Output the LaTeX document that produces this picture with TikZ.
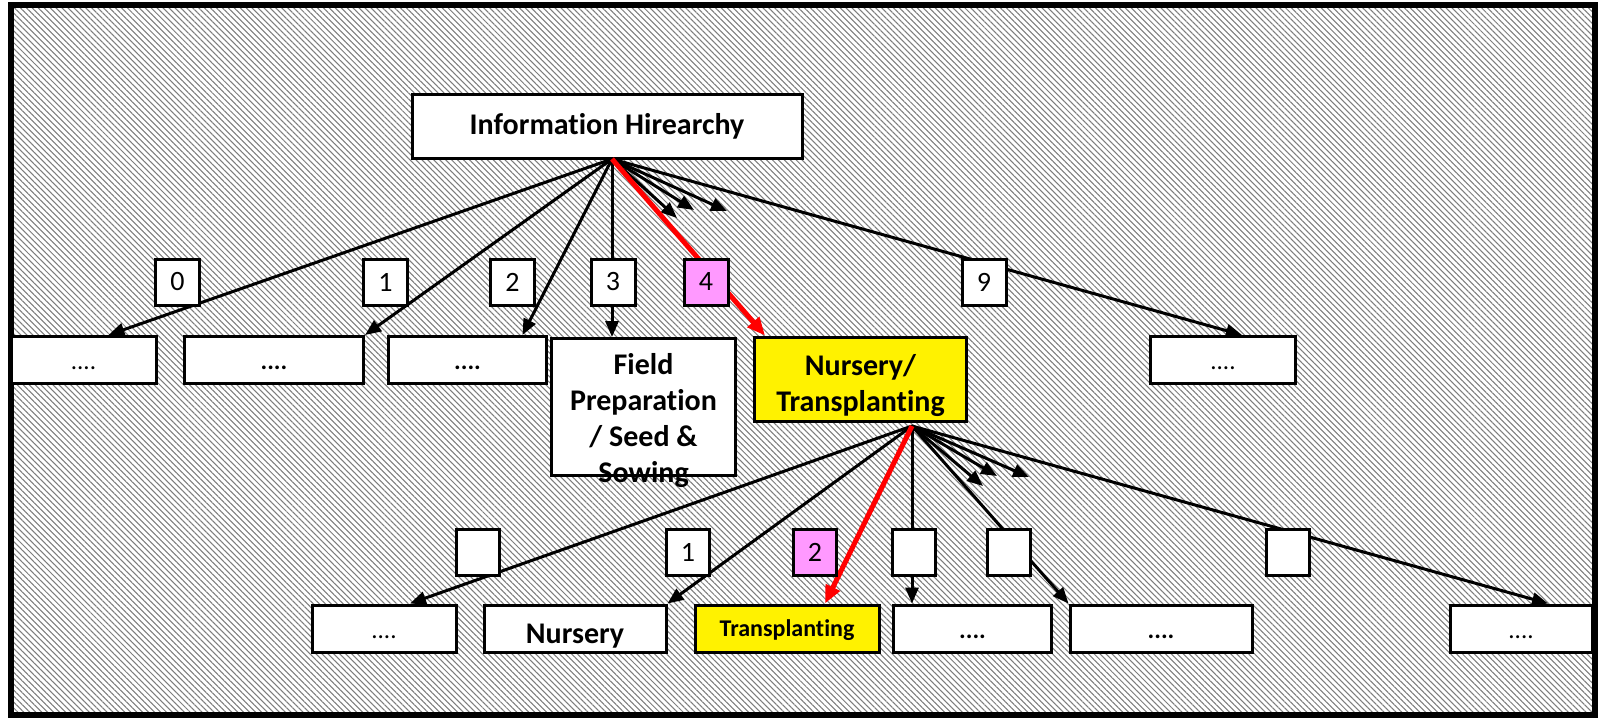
\documentclass[tikz,border=0pt]{standalone}
\usepackage{fontspec}
\setmainfont{Carlito}[Ligatures=NoCommon]
\usetikzlibrary{arrows.meta,patterns.meta,calc}
\definecolor{pinkbox}{RGB}{255,153,255}
\definecolor{hatch}{RGB}{125,125,125}
\newcommand{\lowtext}[2]{\raisebox{-#1}[0pt][0pt]{#2}}
\begin{document}
\begin{tikzpicture}[x=1pt,y=-1pt,
  box/.style={draw, line width=3pt, fill=white, inner sep=0pt},
  lab/.style={draw, line width=3pt, fill=white, inner sep=0pt, minimum width=44pt, minimum height=46pt, font=\fontsize{28}{30}\selectfont},
  arr/.style={line width=3pt, -{Triangle[length=16pt,width=13pt]}},
  redarr/.style={line width=5pt, red, -{Triangle[length=18pt,width=15pt]}},
  big/.style={font=\fontsize{30}{36}\selectfont\bfseries, align=center},
  dotsr/.style={font=\fontsize{25}{28}\selectfont},
  dotsb/.style={font=\fontsize{25}{28}\selectfont\bfseries},
]
\useasboundingbox (0,0) rectangle (1602,718);
\fill[white] (0,0) rectangle (1602,718);
\draw[line width=6pt, pattern={Lines[angle=-45,distance=4.2pt,line width=1.05pt]}, pattern color=hatch] (11,5) rectangle (1595,715);

% level 0
\node[box, minimum width=390pt, minimum height=64pt, big] (top) at (607,126) {Information Hirearchy};

% level 1 boxes
\node[box, minimum width=145pt, minimum height=47pt, dotsr] (a1) at (83.5,360) {\lowtext{9pt}{....}};
\node[box, minimum width=179pt, minimum height=47pt, dotsb] (a2) at (274,360) {\lowtext{9pt}{....}};
\node[box, minimum width=158pt, minimum height=47pt, dotsb] (a3) at (467.5,360) {\lowtext{9pt}{....}};
\node[box, minimum width=184pt, minimum height=137pt] (field) at (643.5,407) {};
\node[box, fill=yellow, minimum width=212pt, minimum height=84pt] (nurs) at (860.5,379) {};
\node[box, minimum width=145pt, minimum height=47pt, dotsr] (a9) at (1223,360) {\lowtext{9pt}{....}};

% level 2 boxes
\node[box, minimum width=144pt, minimum height=47pt, dotsr] (b1) at (384,628.5) {\lowtext{10pt}{....}};
\node[box, minimum width=182pt, minimum height=47pt, big] (b2) at (575,628.5) {\lowtext{15pt}{Nursery}};
\node[box, fill=yellow, minimum width=184pt, minimum height=47pt, font=\fontsize{24}{28}\selectfont\bfseries] (b3) at (787,628.5) {\lowtext{8pt}{Transplanting}};
\node[box, minimum width=158pt, minimum height=47pt, dotsb] (b4) at (972.5,628.5) {\lowtext{10pt}{....}};
\node[box, minimum width=182pt, minimum height=47pt, dotsb] (b5) at (1161,628.5) {\lowtext{10pt}{....}};
\node[box, minimum width=142pt, minimum height=47pt, dotsr] (b6) at (1521,628.5) {\lowtext{10pt}{....}};

% origins and free ends
\coordinate (o1) at (612,159);
\coordinate (o2) at (912,426);
\coordinate (s1) at (677,218);
\coordinate (s2) at (694,210);
\coordinate (s3) at (727,211);
\coordinate (t1) at (983,486);
\coordinate (t2) at (997,476);
\coordinate (t3) at (1029,477);

% level 1 arrows
\draw[arr] (o1) -- ([xshift=25pt]a1.north);
\draw[arr] (o1) -- (a2.north east);
\draw[arr] (o1) -- ([xshift=55pt]a3.north);
\draw[arr] (o1) -- (o1 |- field.north);
\draw[arr] (o1) -- ([xshift=19pt]a9.north);
\draw[arr] (o1) -- (s1);
\draw[arr] (o1) -- (s2);
\draw[arr] (o1) -- (s3);
\draw[redarr] (o1) -- ([xshift=12pt]nurs.north west);

% level 2 arrows
\draw[arr] (o2) -- ([xshift=26pt]b1.north);
\draw[arr] (o2) -- (b2.north east);
\draw[arr] (o2) -- (o2 |- b4.north);
\draw[arr] (o2) -- (b5.north west);
\draw[arr] (o2) -- ([xshift=27pt]b6.north);
\draw[arr] (o2) -- (t1);
\draw[arr] (o2) -- (t2);
\draw[arr] (o2) -- (t3);
\draw[redarr] (o2) -- ([xshift=38pt]b3.north);

% box texts
\node[big, inner sep=0pt, anchor=north] (fieldtxt) at (643.5,353) {Field\\Preparation\\/ Seed \&\\Sowing};
\node[big, inner sep=0pt] (nurstxt) at (860.5,386) {Nursery/\\Transplanting};

% level 1 labels
\node[lab] (l0) at (177.5,282) {0};
\node[lab] (l1) at (385.5,282) {1};
\node[lab] (l2) at (512.5,282) {2};
\node[lab] (l3) at (613,282) {3};
\node[lab, fill=pinkbox] (l4) at (706,282) {4};
\node[lab] (l9) at (984,282) {9};

% level 2 labels
\node[lab, minimum width=43pt] (m0) at (477.5,552) {};
\node[lab, minimum width=43pt] (m1) at (688,552) {1};
\node[lab, minimum width=43pt, fill=pinkbox] (m2) at (815,552) {2};
\node[lab, minimum width=43pt] (m3) at (914,552) {};
\node[lab, minimum width=43pt] (m4) at (1008.5,552) {};
\node[lab, minimum width=43pt] (m5) at (1287.5,552) {};
\end{tikzpicture}
\end{document}
